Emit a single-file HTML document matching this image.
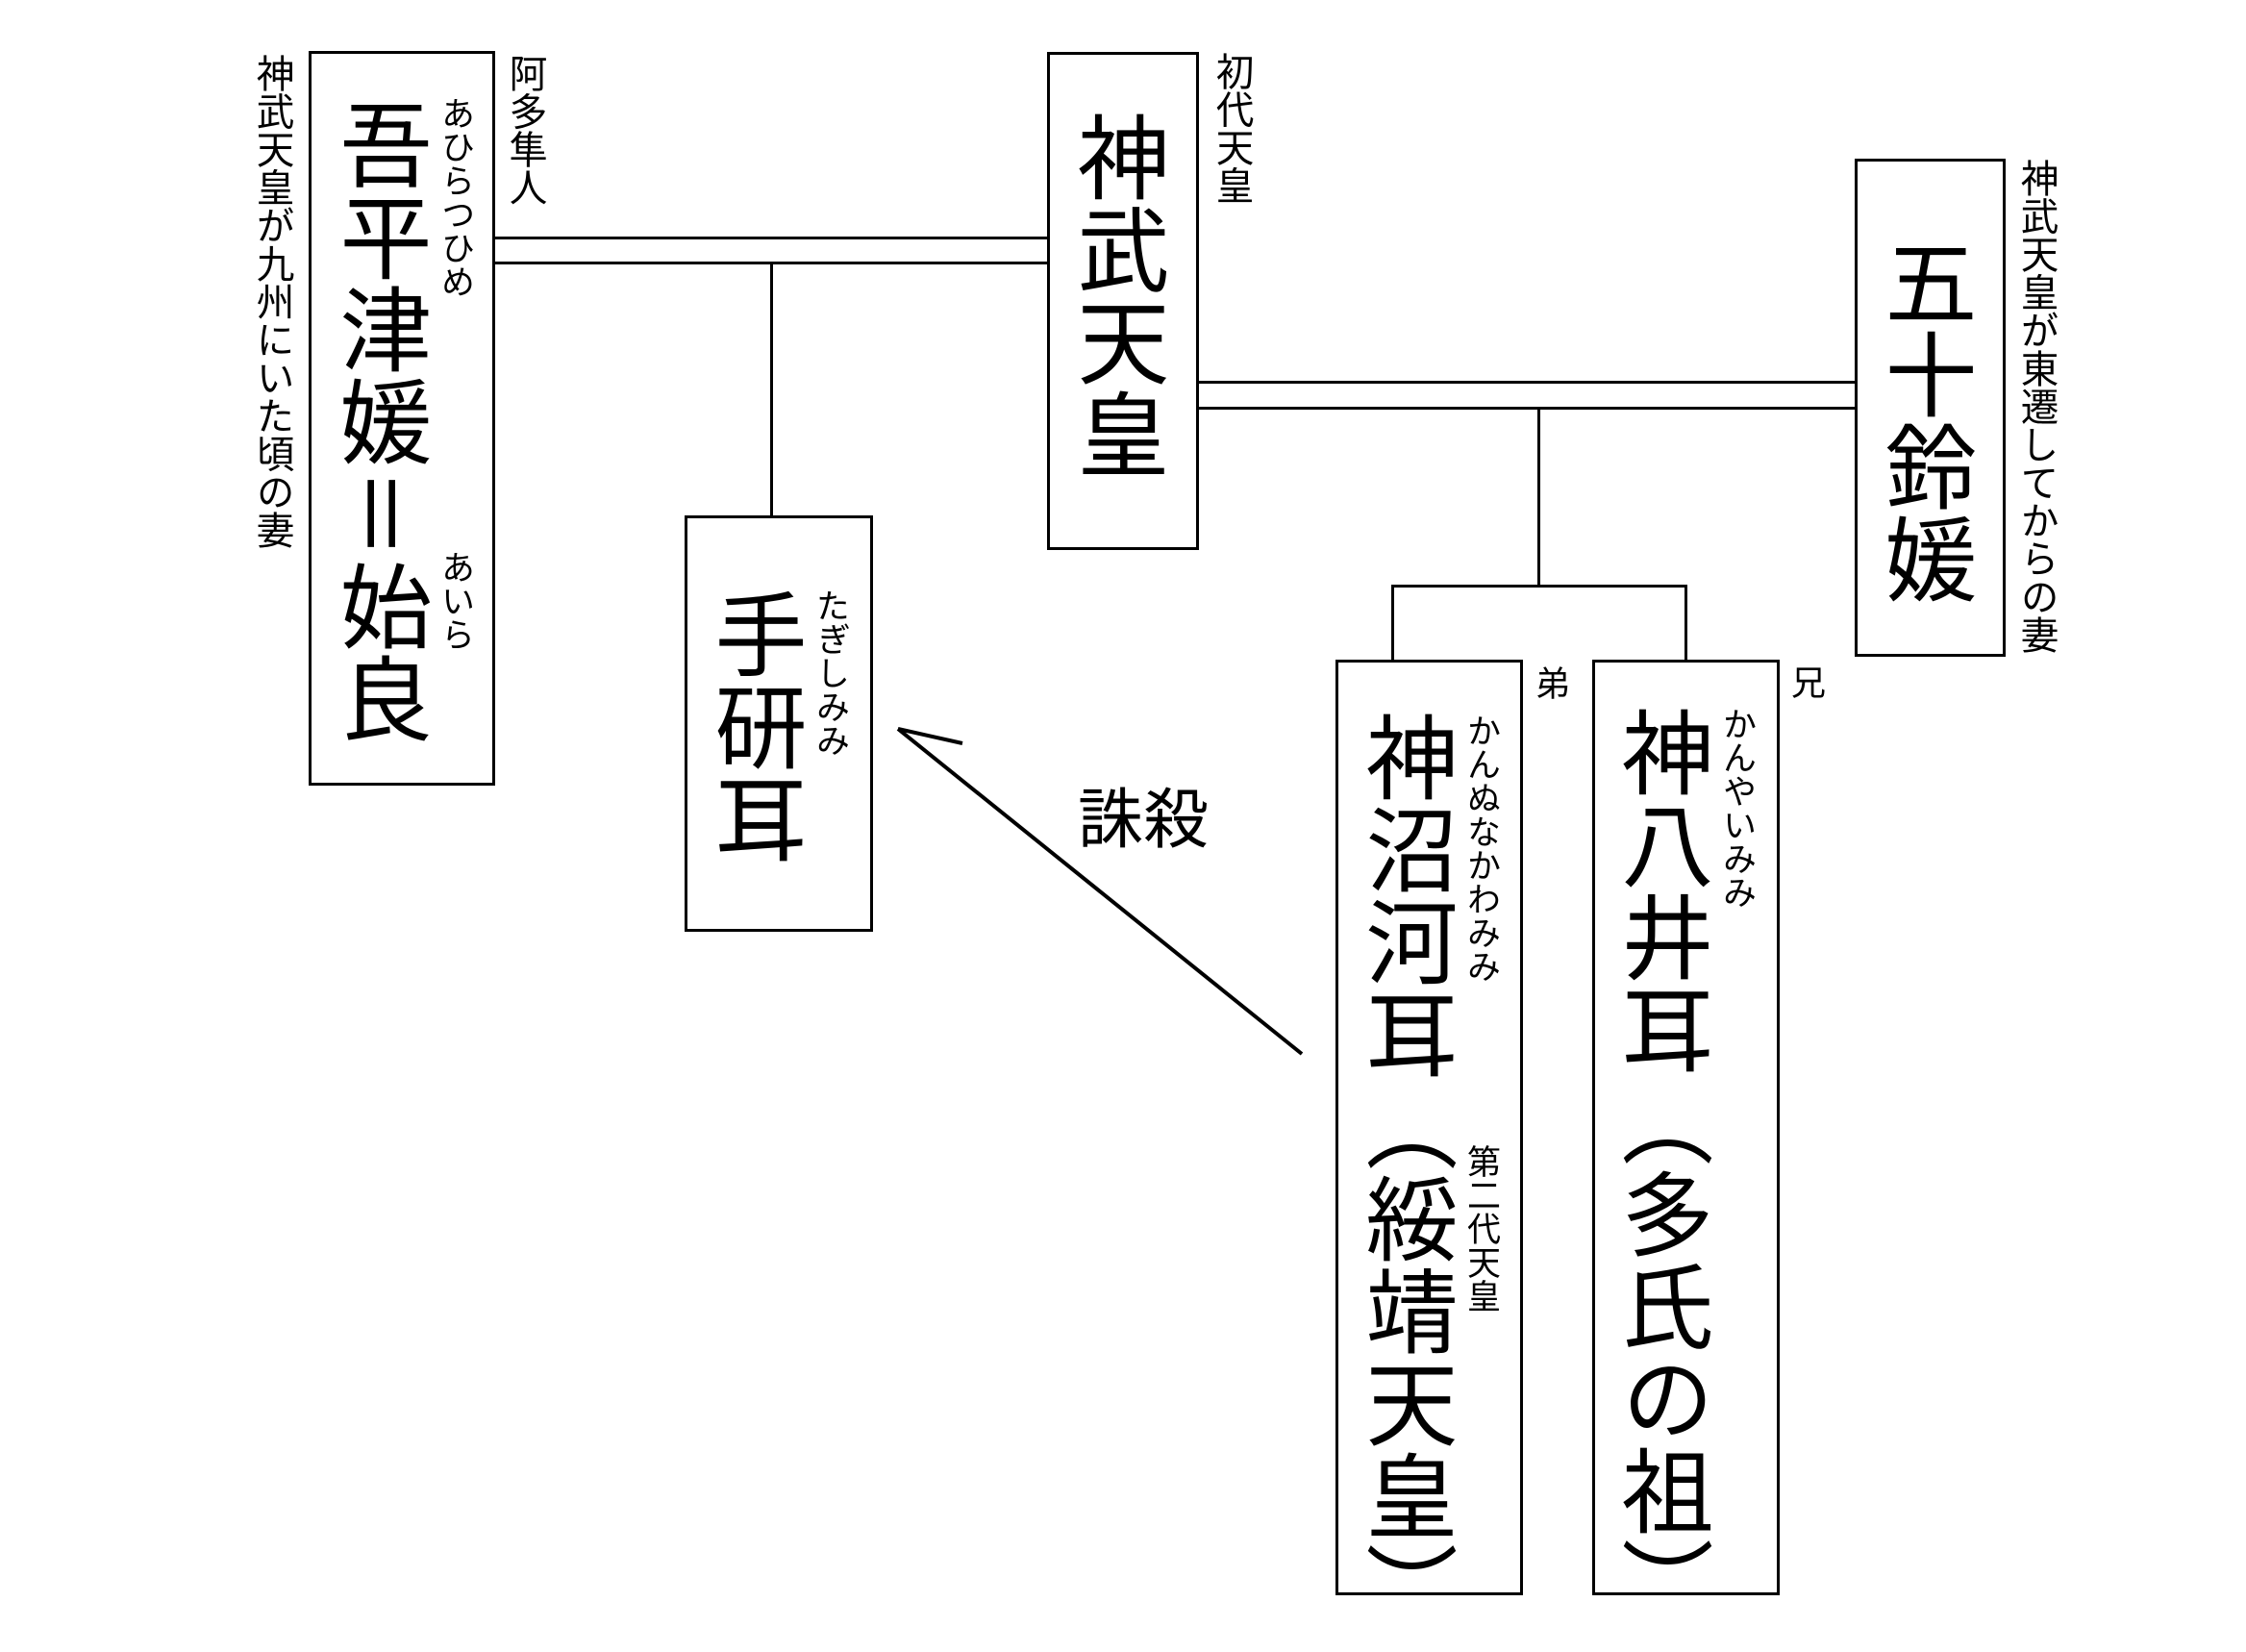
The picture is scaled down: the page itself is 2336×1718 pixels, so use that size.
<!DOCTYPE html>
<html><head><meta charset="utf-8">
<style>
html,body{margin:0;padding:0;background:#fff;}
body{width:2336px;height:1718px;position:relative;overflow:hidden;font-family:"Liberation Sans","Noto Sans CJK JP",sans-serif;color:#000;}
.box{position:absolute;border:3px solid #000;box-sizing:border-box;background:#fff;}
.ln{position:absolute;background:#000;}
.v{position:absolute;writing-mode:vertical-rl;line-height:1;white-space:nowrap;font-family:"Noto Sans CJK JP",sans-serif;}
.m{font-size:96px;width:96px;}
.r{font-size:35px;width:35px;}
.a{font-size:39.6px;width:40px;}
.s{font-size:36px;width:36px;}
</style></head><body>

<!-- connector lines -->
<div class="ln" style="left:515px;top:246px;width:574px;height:3px;"></div>
<div class="ln" style="left:515px;top:272px;width:574px;height:3px;"></div>
<div class="ln" style="left:801px;top:272px;width:3px;height:264px;"></div>

<div class="ln" style="left:1247px;top:396px;width:682px;height:3px;"></div>
<div class="ln" style="left:1247px;top:423px;width:682px;height:3px;"></div>
<div class="ln" style="left:1599px;top:423px;width:3px;height:187px;"></div>
<div class="ln" style="left:1447px;top:608px;width:308px;height:3px;"></div>
<div class="ln" style="left:1447px;top:608px;width:3px;height:79px;"></div>
<div class="ln" style="left:1752px;top:608px;width:3px;height:79px;"></div>

<!-- boxes -->
<div class="box" style="left:321px;top:53px;width:194px;height:764px;"></div>
<div class="box" style="left:1089px;top:54px;width:158px;height:518px;"></div>
<div class="box" style="left:712px;top:536px;width:196px;height:433px;"></div>
<div class="box" style="left:1929px;top:165px;width:157px;height:518px;"></div>
<div class="box" style="left:1389px;top:686px;width:195px;height:973px;"></div>
<div class="box" style="left:1656px;top:686px;width:195px;height:973px;"></div>

<!-- main names -->
<div class="v m" style="left:353px;top:102px;">吾平津媛＝始良</div>
<div class="v m" style="left:1120px;top:115px;">神武天皇</div>
<div class="v m" style="left:743px;top:611px;">手研耳</div>
<div class="v m" style="left:1960px;top:245px;">五十鈴媛</div>
<div class="v m" style="left:1420px;top:739px;">神沼河耳（綏靖天皇）</div>
<div class="v m" style="left:1686px;top:734px;">神八井耳（多氏の祖）</div>

<!-- ruby -->
<div class="v r" style="left:459px;top:100px;">あひらつひめ</div>
<div class="v r" style="left:459px;top:572px;">あいら</div>
<div class="v r" style="left:849px;top:612px;">たぎしみみ</div>
<div class="v r" style="left:1526px;top:742px;">かんぬなかわみみ</div>
<div class="v r" style="left:1526px;top:1190px;">第二代天皇</div>
<div class="v r" style="left:1792px;top:735px;">かんやいみみ</div>

<!-- annotations -->
<div class="v a" style="left:266px;top:56px;">神武天皇が九州にいた頃の妻</div>
<div class="v a" style="left:529px;top:56px;">阿多隼人</div>
<div class="v a" style="left:1264px;top:54px;">初代天皇</div>
<div class="v a" style="left:2101px;top:165px;">神武天皇が東遷してからの妻</div>
<div class="v s" style="left:1597px;top:692px;">弟</div>
<div class="v s" style="left:1863px;top:691px;">兄</div>

<div style="position:absolute;left:1121px;top:813px;font-size:68px;line-height:1;white-space:nowrap;font-family:'Noto Sans CJK JP',sans-serif;">誅殺</div>

<!-- arrow -->
<svg style="position:absolute;left:0;top:0;" width="2336" height="1718" xmlns="http://www.w3.org/2000/svg">
<line x1="1354" y1="1096" x2="934" y2="758" stroke="#000" stroke-width="4"/>
<line x1="934" y1="758" x2="1001" y2="773" stroke="#000" stroke-width="4"/>
</svg>

</body></html>
